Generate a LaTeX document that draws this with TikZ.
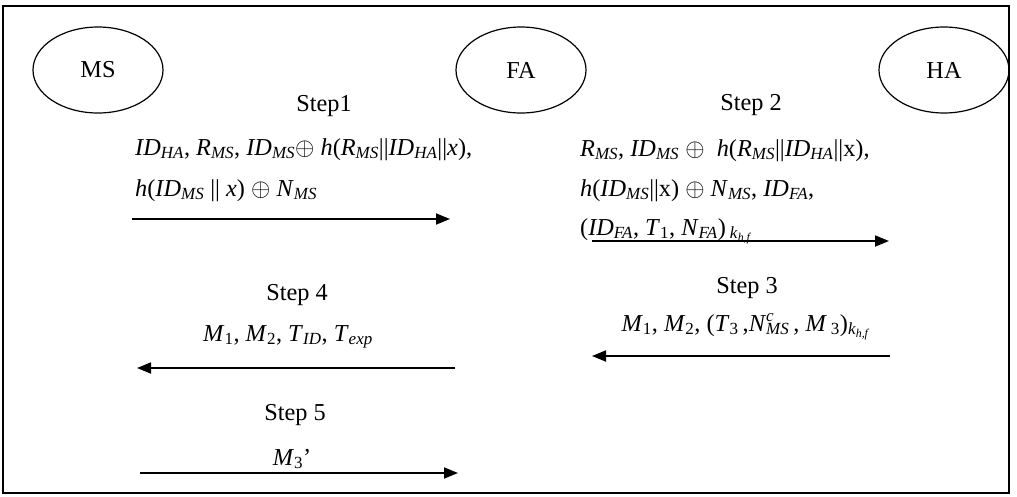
\documentclass[tikz,border=0pt]{standalone}
\usepackage{fontspec}
\setmainfont{Liberation Serif}
\usepackage{tikz}
\usetikzlibrary{shapes.geometric,arrows.meta}

\newcommand{\isub}[2]{\textit{#1}\textsubscript{\textit{#2}}}
\newcommand{\kkey}{\textsubscript{\textit{k}\textsubscript{\textit{h,f}}}}

\begin{document}
\begin{tikzpicture}[x=1pt,y=-1pt,font=\fontsize{24.3}{29}\selectfont]
  \tikzstyle{entity} = [ellipse, draw=black, line width=1.2pt, minimum width=130pt, minimum height=86pt, inner sep=0pt]
  \tikzstyle{steplabel} = [anchor=base, inner sep=0pt]
  \tikzstyle{txt} = [anchor=base west, inner sep=0pt]
  \tikzstyle{ctxt} = [anchor=base, inner sep=0pt]
  \tikzstyle{msg} = [line width=1.8pt, -{Triangle[length=14pt,width=11pt]}]

  \useasboundingbox (0,0) rectangle (1017,496);
  \draw[line width=1.3pt] (3,6) rectangle (1009,493);

  \node[entity] (ms) at (98,70) {MS};
  \node[entity] (fa) at (521,70) {FA};
  \node[entity] (ha) at (944,70) {HA};

  \node[steplabel] (st1) at (324,111) {Step1};
  \node[steplabel] (st2) at (751,110) {Step 2};
  \node[steplabel] (st3) at (747,293) {Step 3};
  \node[steplabel] (st4) at (297,300) {Step 4};
  \node[steplabel] (st5) at (295,420) {Step 5};

  \node[txt] (m11) at (135,155) {\isub{ID}{HA}, \isub{R}{MS}, \isub{ID}{MS}$\oplus$ \textit{h}(\isub{R}{MS}||\isub{ID}{HA}||\textit{x}),};
  \node[txt] (m12) at (135,196) {\textit{h}(\isub{ID}{MS} || \textit{x}) $\oplus$ \isub{N}{MS}};
  \node[txt] (m21) at (580,156) {\isub{R}{MS}, \isub{ID}{MS} $\oplus$\ \ \textit{h}(\isub{R}{MS}||\isub{ID}{HA}||x),};
  \node[txt] (m22) at (580,196) {\textit{h}(\isub{ID}{MS}||x) $\oplus$ \isub{N}{MS}, \isub{ID}{FA},};
  \node[txt] (m23) at (580,235) {(\isub{ID}{FA}, \textit{T}\textsubscript{1}, \isub{N}{FA})\,\kkey};
  \node[ctxt] (m31) at (746,331) {\textit{M}\textsubscript{1}, \textit{M}\textsubscript{2}, (\textit{T}\textsubscript{3}\,,\textit{N}\rlap{\textsuperscript{\textit{c}}}\textsubscript{\textit{MS}}\,, \textit{M}\,\textsubscript{3})\kkey};
  \node[ctxt] (m41) at (288,341) {\textit{M}\textsubscript{1}, \textit{M}\textsubscript{2}, \isub{T}{ID}, \isub{T}{exp}};
  \node[ctxt] (m51) at (292,465) {\textit{M}\textsubscript{3}'};

  \coordinate (a1s) at (132,219);
  \coordinate (a1e) at (450,219);
  \coordinate (a2s) at (592,241);
  \coordinate (a2e) at (889,241);
  \coordinate (a3s) at (890,356);
  \coordinate (a3e) at (592,356);
  \coordinate (a4s) at (455,368);
  \coordinate (a4e) at (137,368);
  \coordinate (a5s) at (140,473);
  \coordinate (a5e) at (458,473);

  \draw[msg] (a1s) -- (a1e);
  \draw[msg] (a2s) -- (a2e);
  \draw[msg] (a3s) -- (a3e);
  \draw[msg] (a4s) -- (a4e);
  \draw[msg] (a5s) -- (a5e);
\end{tikzpicture}
\end{document}
